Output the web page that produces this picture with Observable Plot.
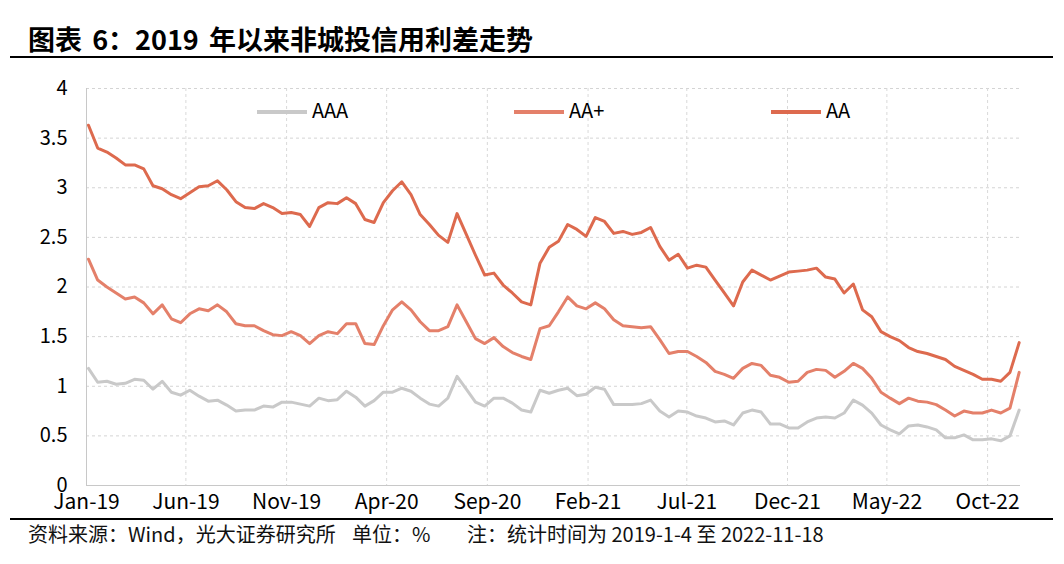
<!DOCTYPE html>
<html>
<head>
<meta charset="utf-8">
<script src="https://cdn.jsdelivr.net/npm/d3@7"></script>
<script src="https://cdn.jsdelivr.net/npm/@observablehq/plot@0.6"></script>
<style>
  body { margin: 0; background: #fff; }
  #wrap { position: relative; width: 1064px; height: 564px; background: #fff; font-family: "Noto Sans CJK SC", "Noto Sans", sans-serif; color: #000; overflow: hidden; }
  #title { position: absolute; left: 28px; top: 24px; font-size: 27px; font-weight: bold; line-height: 30px; white-space: nowrap; word-spacing: 4px; }
  .rule { position: absolute; left: 10px; width: 1043px; height: 2px; background: #000; }
  #chart { position: absolute; left: 0; top: 60px; }
  .leg { position: absolute; top: 97px; height: 26px; line-height: 26px; font-size: 20px; white-space: nowrap; }
  .leg span.sw { display: inline-block; width: 50px; height: 4px; vertical-align: middle; margin-right: 5px; position: relative; top: -1px; }
  .src { position: absolute; top: 521px; font-size: 20px; line-height: 26px; white-space: nowrap; color: #111; }
</style>
</head>
<body>
<div id="wrap">
  <div id="title">图表 6：2019 年以来非城投信用利差走势</div>
  <div class="rule" style="top:56px"></div>
  <div id="chart"></div>
  <div class="rule" style="top:518px"></div>
  <div class="src" style="left:28px">资料来源：Wind，光大证券研究所</div>
  <div class="src" style="left:352px">单位：%</div>
  <div class="src" style="left:467px">注：统计时间为 2019-1-4 至 2022-11-18</div>
</div>
<script>
// ---- data (biweekly readings, first observation 2019-01-04) ----
const startDate = "2019-01-04";
const stepDays = 14;
const seriesNames = ["AAA", "AA+", "AA"];
const seriesColors = ["#c9c9c9", "#e4806a", "#dd6a4e"];
const legendLeft = [257, 514, 771];

const aaa = [1.18,1.04,1.05,1.02,1.03,1.07,1.06,0.97,1.05,0.94,
  0.91,0.96,0.90,0.85,0.86,0.81,0.75,0.76,0.76,0.80,
  0.79,0.84,0.84,0.82,0.80,0.88,0.855,0.865,0.95,0.89,
  0.80,0.855,0.94,0.94,0.98,0.95,0.88,0.82,0.80,0.88,
  1.10,0.97,0.84,0.80,0.88,0.88,0.83,0.76,0.74,0.96,
  0.93,0.96,0.98,0.905,0.92,0.99,0.97,0.815,0.815,0.815,
  0.825,0.86,0.75,0.69,0.75,0.74,0.70,0.68,0.64,0.65,
  0.61,0.73,0.76,0.74,0.62,0.62,0.58,0.58,0.64,0.68,
  0.69,0.68,0.73,0.86,0.81,0.73,0.61,0.56,0.52,0.60,
  0.61,0.59,0.56,0.48,0.48,0.51,0.46,0.46,0.47,0.45,
  0.50,0.76];

const aaPlus = [2.28,2.07,2.00,1.94,1.88,1.90,1.84,1.73,1.82,1.68,
  1.64,1.73,1.78,1.76,1.82,1.75,1.63,1.61,1.61,1.56,
  1.52,1.51,1.55,1.51,1.43,1.51,1.55,1.53,1.63,1.63,
  1.43,1.42,1.61,1.77,1.85,1.77,1.65,1.56,1.56,1.60,
  1.82,1.65,1.48,1.43,1.49,1.40,1.34,1.30,1.27,1.58,
  1.61,1.75,1.90,1.81,1.78,1.84,1.78,1.67,1.61,1.60,
  1.59,1.60,1.47,1.33,1.35,1.35,1.30,1.24,1.15,1.12,
  1.08,1.18,1.23,1.21,1.11,1.09,1.04,1.05,1.14,1.17,
  1.16,1.09,1.15,1.23,1.18,1.08,0.94,0.88,0.825,0.88,
  0.85,0.84,0.815,0.76,0.70,0.75,0.73,0.73,0.76,0.73,
  0.78,1.14];

const aa = [3.63,3.40,3.36,3.30,3.23,3.23,3.19,3.02,2.99,2.93,
  2.89,2.95,3.01,3.02,3.07,2.98,2.86,2.80,2.79,2.84,
  2.80,2.74,2.75,2.73,2.61,2.80,2.85,2.84,2.90,2.84,
  2.68,2.65,2.85,2.97,3.06,2.93,2.73,2.63,2.52,2.45,
  2.74,2.53,2.32,2.12,2.14,2.02,1.94,1.85,1.82,2.24,
  2.40,2.46,2.63,2.58,2.51,2.70,2.66,2.54,2.56,2.53,
  2.55,2.60,2.41,2.27,2.33,2.19,2.22,2.20,2.07,1.94,
  1.81,2.05,2.17,2.12,2.07,2.11,2.15,2.16,2.17,2.19,
  2.10,2.08,1.94,2.03,1.77,1.70,1.55,1.50,1.46,1.39,
  1.35,1.33,1.30,1.27,1.20,1.16,1.12,1.07,1.07,1.05,
  1.14,1.44];

const xTickDates = ["2019-01-01","2019-06-01","2019-11-01","2020-04-01","2020-09-01",
  "2021-02-01","2021-07-01","2021-12-01","2022-05-01","2022-10-01"];
const xTickLabels = ["Jan-19","Jun-19","Nov-19","Apr-20","Sep-20","Feb-21","Jul-21","Dec-21","May-22","Oct-22"];
const yTicks = [0, 0.5, 1, 1.5, 2, 2.5, 3, 3.5, 4];
const xDomain = ["2019-01-01", "2022-11-20"];

// ---- build table ----
const seriesValues = [aaa, aaPlus, aa];
const t0 = new Date(startDate + "T00:00:00Z").getTime();
const data = seriesNames.flatMap((name, s) =>
  seriesValues[s].map((v, i) => ({series: name, date: new Date(t0 + i * stepDays * 864e5), value: v})));
const tickDates = xTickDates.map(d => new Date(d + "T00:00:00Z"));
const labelOf = new Map(tickDates.map((d, i) => [+d, xTickLabels[i]]));

const chart = Plot.plot({
  width: 1064,
  height: 455,
  marginLeft: 86,
  marginRight: 44,
  marginTop: 28,
  marginBottom: 30,
  style: {fontFamily: '"Noto Sans CJK SC", "Noto Sans", sans-serif', fontSize: "20px", color: "#000", background: "#fff", overflow: "visible"},
  x: {type: "utc", domain: xDomain.map(d => new Date(d + "T00:00:00Z")), label: null},
  y: {domain: [0, 4], label: null},
  color: {domain: seriesNames, range: seriesColors},
  marks: [
    Plot.gridY(yTicks.filter(d => d > 0), {stroke: "#d4d4d4", strokeOpacity: 1, strokeDasharray: "3,3"}),
    Plot.gridX(tickDates.slice(1), {stroke: "#d9d9d9", strokeOpacity: 1, strokeDasharray: "3,3"}),
    Plot.ruleY([0], {stroke: "#c8c8c8", strokeWidth: 1}),
    Plot.ruleX(tickDates.slice(0, 1), {stroke: "#c8c8c8", strokeWidth: 1}),
    Plot.axisY({ticks: yTicks, tickSize: 0, tickPadding: 19, tickFormat: d => String(d), fill: "#000", label: null}),
    Plot.axisX({ticks: tickDates, tickSize: 0, tickPadding: 9, tickFormat: d => labelOf.get(+d), fill: "#000", label: null, fontSize: 21}),
    Plot.line(data, {x: "date", y: "value", z: "series", stroke: "series", strokeWidth: 3, strokeLinejoin: "round", strokeLinecap: "round"})
  ]
});
document.getElementById("chart").appendChild(chart);

// legend
const wrap = document.getElementById("wrap");
seriesNames.forEach((name, i) => {
  const d = document.createElement("div");
  d.className = "leg";
  d.style.left = legendLeft[i] + "px";
  const sw = document.createElement("span");
  sw.className = "sw";
  sw.style.background = seriesColors[i];
  d.appendChild(sw);
  d.appendChild(document.createTextNode(name));
  wrap.appendChild(d);
});
</script>
</body>
</html>
